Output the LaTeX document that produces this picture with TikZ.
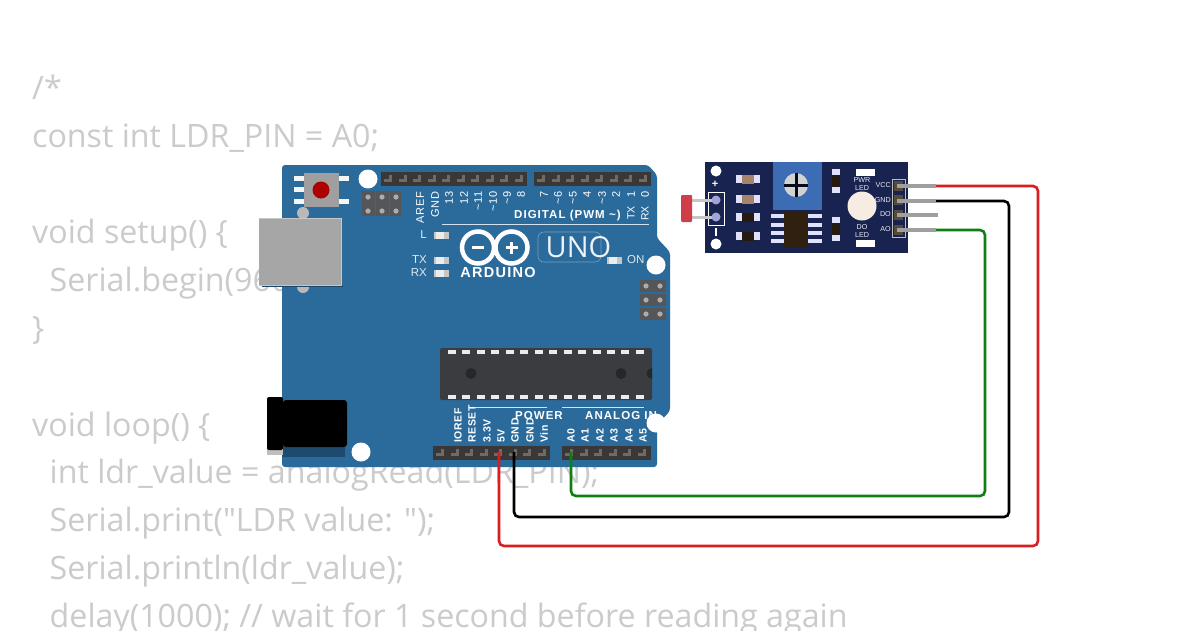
\documentclass[tikz,border=0pt]{standalone}
\usepackage{fontspec}
\setmainfont{Open Sans}
\newfontfamily\codefont{Open Sans}
\newfontfamily\lblfont{Liberation Sans}
\newfontfamily\lblwide[LetterSpace=6]{Liberation Sans}
\newfontfamily\lblwider[LetterSpace=9]{Liberation Sans}
\definecolor{codegray}{HTML}{CBCBCB}
\definecolor{boardblue}{HTML}{2B6B9C}
\definecolor{hdr}{HTML}{3A3836}
\definecolor{hdrpin}{HTML}{6E6A64}
\definecolor{icdark}{HTML}{3B3C40}
\definecolor{sens}{HTML}{18234F}
\definecolor{potblue}{HTML}{3C6DB4}
\definecolor{wred}{HTML}{D81E1E}
\definecolor{wgreen}{HTML}{0E7F14}
\definecolor{icsp}{HTML}{55565A}
\definecolor{tanres}{HTML}{A8836C}
\definecolor{ldrred}{HTML}{CF3F4A}
\tikzset{
  codeline/.style={anchor=base west,text=codegray,inner sep=0pt,font=\codefont\fontsize{32.2}{36}\selectfont},
  hole/.style={circle,fill=white,draw=none,minimum size=#1,inner sep=0pt},
  pinlbl/.style={rotate=90,anchor=east,text=white,inner sep=0pt,font=\lblwide\fontsize{11}{12}\selectfont},
  pinlow/.style={rotate=90,anchor=west,text=white,inner sep=0pt,font=\lblwide\bfseries\fontsize{10.5}{12}\selectfont},
  headline/.style={text=white,inner sep=0pt,font=\lblwider\bfseries\fontsize{11.5}{12}\selectfont},
  sidelbl/.style={text=white!85!boardblue,inner sep=0pt,font=\lblfont\fontsize{11.5}{12}\selectfont},
  tinylbl/.style={text=white!90!sens,inner sep=0pt,font=\lblfont\fontsize{7.2}{8}\selectfont,align=center},
  wire/.style={line width=2.6pt,rounded corners=5pt},
  lead/.style={line width=3.4pt,draw=gray!75},
}
\newcommand{\hdrpins}[3]{%
  \foreach \i in {1,...,#3}{%
    \fill[hdrpin] ({#1+(\i-1)*14.55+2},{#2+1}) rectangle ({#1+(\i-1)*14.55+10},{#2+4});
    \fill[hdrpin] ({#1+(\i-1)*14.55+7},{#2-3}) rectangle ({#1+(\i-1)*14.55+10},{#2+4});
  }}
\newcommand{\smdled}[2]{%
  \fill[white!85!gray] (#1,{#2-3.5}) rectangle ({#1+15},{#2+3.5});
  \fill[gray!45] ({#1+10},{#2-3.5}) rectangle ({#1+15},{#2+3.5});
  \fill[gray!45] (#1,{#2-3.5}) rectangle ({#1+2},{#2+3.5});}
\newcommand{\hres}[3]{%
  \fill[white!88!blue] (#1,{#2-4}) rectangle ({#1+24},{#2+4});
  \fill[#3] ({#1+6},{#2-4.5}) rectangle ({#1+18},{#2+4.5});}
\newcommand{\vres}[2]{%
  \fill[white!88!blue] ({#1-4},#2) rectangle ({#1+4},{#2+24});
  \fill[black!80!brown] ({#1-4},{#2+6}) rectangle ({#1+4},{#2+18});}
\begin{document}
\begin{tikzpicture}[x=1pt,y=-1pt]
\useasboundingbox (0,0) rectangle (1200,630);
\clip (0,0) rectangle (1200,630);
\fill[white] (0,0) rectangle (1200,630);
% code
\node[codeline] (c1) at (32,99.7) {/*};
\node[codeline] (c2) at (32,147.7) {const int LDR\_PIN = A0;};
\node[codeline] (c3) at (32,243.7) {void setup() \{};
\node[codeline] (c4) at (49.5,291.7) {Serial.begin(9600);};
\node[codeline] (c5) at (32,339.7) {\}};
\node[codeline] (c6) at (32,436.7) {void loop() \{};
\node[codeline] (c7) at (49.5,483.7) {int ldr\_value = analogRead(LDR\_PIN);};
\node[codeline] (c8) at (49.5,531.7) {Serial.print("LDR value: ");};
\node[codeline] (c9) at (49.5,579.7) {Serial.println(ldr\_value);};
\node[codeline] (c10) at (49.5,627.7) {delay(1000); // wait for 1 second before reading again};
% board
\fill[boardblue,rounded corners=3pt] (282,467) -- (282,165) -- (648,165) -- (657,175) -- (657,238) -- (670,252) -- (670,411) -- (657,425) -- (657,467) -- cycle;
% holes
\node[hole=19] (h1) at (368,179) {};
\node[hole=19] (h2) at (656,265) {};
\node[hole=19] (h3) at (361,452) {};
% headers
\fill[hdr] (381,172) rectangle (527,186); \hdrpins{382}{178}{10}
\fill[hdr] (534,172) rectangle (651,186); \hdrpins{535}{178}{8}
\fill[hdr] (433,446) rectangle (550,460); \hdrpins{434}{452}{8}
\fill[hdr] (562,446) rectangle (651,460); \hdrpins{563}{452}{6}
% reset button
\foreach \y in {178,189,201}{\fill[white!92!gray] (294,\y-2.5) rectangle (305,\y+2.5);}
\foreach \y in {178,201}{\fill[white!92!gray] (338,\y-2.5) rectangle (349,\y+2.5);}
\fill[gray!75!white] (304,173) rectangle (339,207);
\fill[black!15!red!80!black] (321,190) circle (8.5);
% ICSP 1
\fill[icsp] (362,191) rectangle (375,216);
\fill[icsp] (376,191) rectangle (389,216);
\fill[icsp] (390,191) rectangle (401,216);
\foreach \x in {368,382,396}{\foreach \y in {197,211}{\fill[gray!65!white] (\x,\y) circle (2.6);}}
% ICSP 2
\foreach \y in {280,294,308}{\fill[icsp] (640,\y) rectangle (666,\y+12);
 \fill[gray!65!white] (646,\y+6) circle (2.6); \fill[gray!65!white] (660,\y+6) circle (2.6);}
% USB
\fill[gray!55] (303,213) circle (6); \fill[gray!55] (303,287) circle (6);
\fill[black!35!boardblue] (262,285) rectangle (343,287);
\fill[gray!70!white] (259,218) rectangle (341,285);
\draw[gray!45,line width=.7pt] (259,218) -- (341,218) -- (341,285) -- (259,285);
% jack
\fill[black!30!boardblue] (282,420) rectangle (345,457);
\fill[gray!50] (267,440) rectangle (283,455);
\fill[black,rounded corners=2pt] (267,397) rectangle (283,450);
\fill[black,rounded corners=3pt] (283,400) rectangle (347,447);
% IC
\fill[icdark,rounded corners=1.5pt] (440,348) rectangle (652,400);
\foreach \i in {0,...,13}{\fill[white!85!gray] ({448+\i*14.45},350) rectangle ({456+\i*14.45},353.5);
  \fill[white!85!gray] ({448+\i*14.45},395) rectangle ({456+\i*14.45},398.5);}
\fill[black!35!icdark] (471,373.5) circle (5.5);
\fill[black!35!icdark] (621,373.5) circle (5.5);
\begin{scope}
  \clip (640,360) rectangle (652,390);
  \fill[black!35!icdark] (652,373.5) circle (5.5);
\end{scope}
% top labels
\foreach \x/\t in {420/AREF,435/GND,449/13,464/12,478/\textasciitilde 11,493/\textasciitilde 10,507/\textasciitilde 9,521/8,544/7,558/\textasciitilde 6,573/\textasciitilde 5,587/4,602/\textasciitilde 3,616/2,631/1,645/0}{
  \node[pinlbl] at (\x,191.5) {\t};}
\node[pinlbl,font=\lblfont\fontsize{10.5}{11}\selectfont] (txl) at (631,206) {TX};
\node[pinlbl,font=\lblfont\fontsize{10.5}{11}\selectfont] (rxl) at (645,206) {RX};
\node[headline,anchor=west] (dig) at (514,215.5) {DIGITAL (PWM \textasciitilde)};
\draw[white!80!boardblue,line width=1pt] (442,224) -- (649,224);
% bottom labels
\foreach \x/\t in {458/IOREF,472/RESET,487/3.3V,501/5V,515/GND,530/GND,544/Vin,571/A0,585/A1,600/A2,614/A3,629/A4,643/A5}{
  \node[pinlow] at (\x,443) {\t};}
\draw[white!80!boardblue,line width=.8pt] (475,407) -- (547,407);
\draw[white!80!boardblue,line width=.8pt] (562,407) -- (644,407);
\node[headline,anchor=west] (pw) at (515,416) {POWER};
\node[headline,anchor=west] (an) at (585,416) {ANALOG IN};
\node[hole=19] (h4) at (656,423) {};
% side leds
\smdled{434}{235}\smdled{434}{260}\smdled{434}{273}
\node[sidelbl,anchor=east] (ll) at (427,235) {L};
\node[sidelbl,anchor=east] (tl) at (427,260) {TX};
\node[sidelbl,anchor=east] (rl) at (427,273) {RX};
\smdled{607}{260}
\node[sidelbl,anchor=west] (on) at (627,260) {ON};
% logo
\draw[white,line width=4.5pt] (478,247.5) circle (16);
\draw[white,line width=4.5pt] (511.5,247.5) circle (16);
\fill[white] (472,246) rectangle (484,249);
\fill[white] (505.5,246) rectangle (517.5,249);
\fill[white] (510,241.5) rectangle (513,253.5);
\node[text=white,inner sep=0pt,font=\lblwider\bfseries\fontsize{14.5}{16}\selectfont] (ard) at (498,273) {ARDUINO};
\draw[white!35!boardblue,line width=.6pt,rounded corners=6pt] (538,232) rectangle (601,262);
\node[text=white!92!boardblue,inner sep=0pt,font=\fontsize{29}{32}\selectfont] (uno) at (578.5,247) {UNO};
% sensor board
\fill[sens] (705,162) rectangle (908,253);
\fill[potblue] (773,162) rectangle (822,210);
\fill[gray!35!white] (796,185) circle (12);
\fill[black!70!sens] (794.5,173) rectangle (797.5,197);
\fill[black!70!sens] (784,183.5) rectangle (808,186.5);
\node[hole=11] (sh1) at (716,171) {};
\node[hole=11] (sh2) at (716,244) {};
\node[text=white,inner sep=0pt,font=\lblfont\bfseries\fontsize{11}{12}\selectfont] (plus) at (715,184) {+};
\fill[white] (714.5,228) rectangle (716.5,236);
\draw[white,line width=1pt] (708,192) rectangle (724,225);
\fill[gray!45!white] (692,199) rectangle (716,201.5);
\fill[gray!45!white] (692,216) rectangle (716,218.5);
\fill[white!70!blue!70!gray] (716,200) circle (4.5);
\fill[white!70!blue!70!gray] (716,217) circle (4.5);
\fill[ldrred,rounded corners=1pt] (681,195) rectangle (692,222);
\hres{736}{179}{tanres}\hres{736}{199}{tanres}
\hres{736}{217}{black!80!brown}\hres{736}{236}{black!80!brown}
\foreach \y in {216,225,233,241}{
  \fill[white!88!blue] (771,\y-2.2) rectangle (785,\y+2.2);
  \fill[white!88!blue] (807,\y-2.2) rectangle (822,\y+2.2);}
\fill[black!75!brown] (784,211) rectangle (808,247);
\vres{836}{169}\vres{836}{217}
\fill[white] (856,169) rectangle (875,176);
\fill[white] (856,240) rectangle (875,247);
\fill[white!85!brown] (862,206) circle (14.5);
\node[tinylbl] (pwr) at (862,184) {PWR\\LED};
\node[tinylbl] (dol) at (862,231) {DO\\LED};
\node[tinylbl,anchor=east] (vcc) at (891,185) {VCC};
\node[tinylbl,anchor=east] (gnd) at (891,200) {GND};
\node[tinylbl,anchor=east] (dop) at (891,214.5) {DO};
\node[tinylbl,anchor=east] (aop) at (891,229) {AO};
\draw[gray!50!white,line width=.8pt] (892,179) rectangle (905,237);
\foreach \y in {186,200,215,230}{\fill[black!70!brown!60!gray] (894,\y-5) rectangle (903,\y+5);}
% wire ends at the pins
\coordinate (p5v) at (499,452);
\coordinate (pgnd) at (514,452);
\coordinate (pa0) at (571,452);
\coordinate (svcc) at (936,186);
\coordinate (sgnd) at (936,201);
\coordinate (sao) at (936,230);
\coordinate (sdo) at (938,215);
\coordinate (lvcc) at (897,186);
\coordinate (lgnd) at (897,201);
\coordinate (ldo) at (897,215);
\coordinate (lao) at (897,230);
% wires
\draw[wire,wred] (p5v) |- (1038,546) |- (svcc);
\draw[wire,black] (pgnd) |- (1009,517) |- (sgnd);
\draw[wire,wgreen] (pa0) |- (985,496) |- (sao);
\draw[lead] (lvcc) -- (svcc);
\draw[lead] (lgnd) -- (sgnd);
\draw[lead] (ldo) -- (sdo);
\draw[lead] (lao) -- (sao);
\end{tikzpicture}
\end{document}
